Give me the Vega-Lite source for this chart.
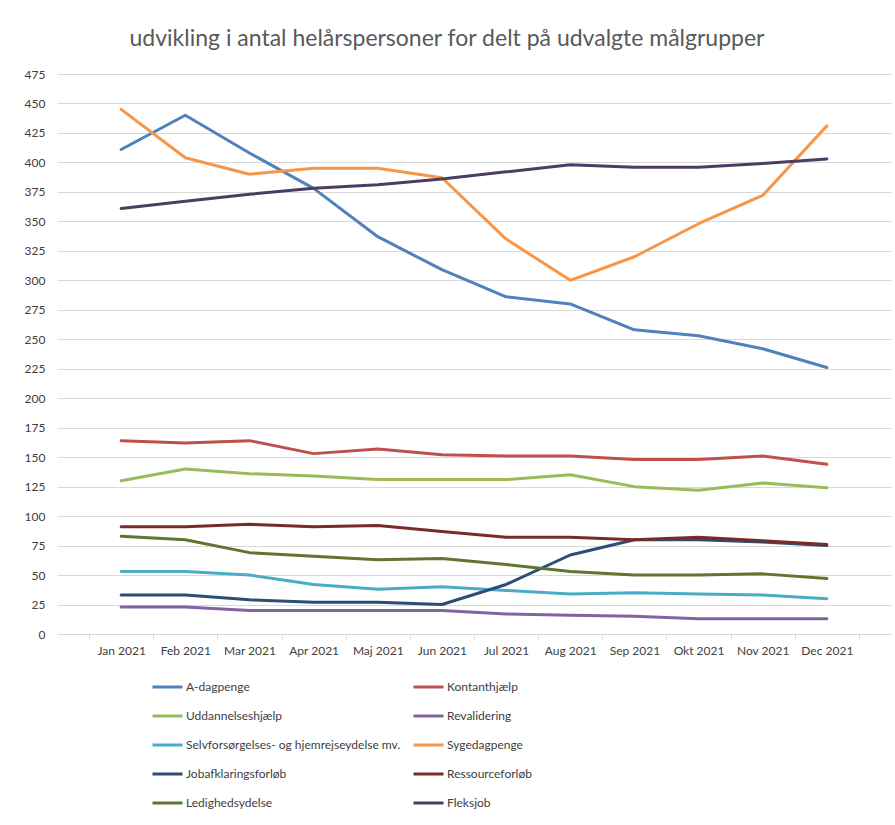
{
  "$schema": "https://vega.github.io/schema/vega-lite/v6.json",
  "width": 834,
  "height": 560,
  "autosize": "none",
  "padding": {"left": 57, "top": 74, "right": 4, "bottom": 191},
  "background": "white",
  "title": {"text": "udvikling i antal helårspersoner for delt på udvalgte målgrupper", "font": "Lato", "fontSize": 23, "fontWeight": "normal", "color": "#595959", "anchor": "middle", "dx": -27, "offset": 17},
  "datasets": {
    "d": [
      {"m":"Jan 2021","s":"A-dagpenge","v":411},{"m":"Feb 2021","s":"A-dagpenge","v":440},{"m":"Mar 2021","s":"A-dagpenge","v":408},{"m":"Apr 2021","s":"A-dagpenge","v":378},{"m":"Maj 2021","s":"A-dagpenge","v":337},{"m":"Jun 2021","s":"A-dagpenge","v":309},{"m":"Jul 2021","s":"A-dagpenge","v":286},{"m":"Aug 2021","s":"A-dagpenge","v":280},{"m":"Sep 2021","s":"A-dagpenge","v":258},{"m":"Okt 2021","s":"A-dagpenge","v":253},{"m":"Nov 2021","s":"A-dagpenge","v":242},{"m":"Dec 2021","s":"A-dagpenge","v":226},
      {"m":"Jan 2021","s":"Kontanthjælp","v":164},{"m":"Feb 2021","s":"Kontanthjælp","v":162},{"m":"Mar 2021","s":"Kontanthjælp","v":164},{"m":"Apr 2021","s":"Kontanthjælp","v":153},{"m":"Maj 2021","s":"Kontanthjælp","v":157},{"m":"Jun 2021","s":"Kontanthjælp","v":152},{"m":"Jul 2021","s":"Kontanthjælp","v":151},{"m":"Aug 2021","s":"Kontanthjælp","v":151},{"m":"Sep 2021","s":"Kontanthjælp","v":148},{"m":"Okt 2021","s":"Kontanthjælp","v":148},{"m":"Nov 2021","s":"Kontanthjælp","v":151},{"m":"Dec 2021","s":"Kontanthjælp","v":144},
      {"m":"Jan 2021","s":"Uddannelseshjælp","v":130},{"m":"Feb 2021","s":"Uddannelseshjælp","v":140},{"m":"Mar 2021","s":"Uddannelseshjælp","v":136},{"m":"Apr 2021","s":"Uddannelseshjælp","v":134},{"m":"Maj 2021","s":"Uddannelseshjælp","v":131},{"m":"Jun 2021","s":"Uddannelseshjælp","v":131},{"m":"Jul 2021","s":"Uddannelseshjælp","v":131},{"m":"Aug 2021","s":"Uddannelseshjælp","v":135},{"m":"Sep 2021","s":"Uddannelseshjælp","v":125},{"m":"Okt 2021","s":"Uddannelseshjælp","v":122},{"m":"Nov 2021","s":"Uddannelseshjælp","v":128},{"m":"Dec 2021","s":"Uddannelseshjælp","v":124},
      {"m":"Jan 2021","s":"Revalidering","v":23},{"m":"Feb 2021","s":"Revalidering","v":23},{"m":"Mar 2021","s":"Revalidering","v":20},{"m":"Apr 2021","s":"Revalidering","v":20},{"m":"Maj 2021","s":"Revalidering","v":20},{"m":"Jun 2021","s":"Revalidering","v":20},{"m":"Jul 2021","s":"Revalidering","v":17},{"m":"Aug 2021","s":"Revalidering","v":16},{"m":"Sep 2021","s":"Revalidering","v":15},{"m":"Okt 2021","s":"Revalidering","v":13},{"m":"Nov 2021","s":"Revalidering","v":13},{"m":"Dec 2021","s":"Revalidering","v":13},
      {"m":"Jan 2021","s":"Selvforsørgelses- og hjemrejseydelse mv.","v":53},{"m":"Feb 2021","s":"Selvforsørgelses- og hjemrejseydelse mv.","v":53},{"m":"Mar 2021","s":"Selvforsørgelses- og hjemrejseydelse mv.","v":50},{"m":"Apr 2021","s":"Selvforsørgelses- og hjemrejseydelse mv.","v":42},{"m":"Maj 2021","s":"Selvforsørgelses- og hjemrejseydelse mv.","v":38},{"m":"Jun 2021","s":"Selvforsørgelses- og hjemrejseydelse mv.","v":40},{"m":"Jul 2021","s":"Selvforsørgelses- og hjemrejseydelse mv.","v":37},{"m":"Aug 2021","s":"Selvforsørgelses- og hjemrejseydelse mv.","v":34},{"m":"Sep 2021","s":"Selvforsørgelses- og hjemrejseydelse mv.","v":35},{"m":"Okt 2021","s":"Selvforsørgelses- og hjemrejseydelse mv.","v":34},{"m":"Nov 2021","s":"Selvforsørgelses- og hjemrejseydelse mv.","v":33},{"m":"Dec 2021","s":"Selvforsørgelses- og hjemrejseydelse mv.","v":30},
      {"m":"Jan 2021","s":"Sygedagpenge","v":445},{"m":"Feb 2021","s":"Sygedagpenge","v":404},{"m":"Mar 2021","s":"Sygedagpenge","v":390},{"m":"Apr 2021","s":"Sygedagpenge","v":395},{"m":"Maj 2021","s":"Sygedagpenge","v":395},{"m":"Jun 2021","s":"Sygedagpenge","v":387},{"m":"Jul 2021","s":"Sygedagpenge","v":335},{"m":"Aug 2021","s":"Sygedagpenge","v":300},{"m":"Sep 2021","s":"Sygedagpenge","v":320},{"m":"Okt 2021","s":"Sygedagpenge","v":348},{"m":"Nov 2021","s":"Sygedagpenge","v":372},{"m":"Dec 2021","s":"Sygedagpenge","v":431},
      {"m":"Jan 2021","s":"Jobafklaringsforløb","v":33},{"m":"Feb 2021","s":"Jobafklaringsforløb","v":33},{"m":"Mar 2021","s":"Jobafklaringsforløb","v":29},{"m":"Apr 2021","s":"Jobafklaringsforløb","v":27},{"m":"Maj 2021","s":"Jobafklaringsforløb","v":27},{"m":"Jun 2021","s":"Jobafklaringsforløb","v":25},{"m":"Jul 2021","s":"Jobafklaringsforløb","v":42},{"m":"Aug 2021","s":"Jobafklaringsforløb","v":67},{"m":"Sep 2021","s":"Jobafklaringsforløb","v":80},{"m":"Okt 2021","s":"Jobafklaringsforløb","v":80},{"m":"Nov 2021","s":"Jobafklaringsforløb","v":78},{"m":"Dec 2021","s":"Jobafklaringsforløb","v":75},
      {"m":"Jan 2021","s":"Ressourceforløb","v":91},{"m":"Feb 2021","s":"Ressourceforløb","v":91},{"m":"Mar 2021","s":"Ressourceforløb","v":93},{"m":"Apr 2021","s":"Ressourceforløb","v":91},{"m":"Maj 2021","s":"Ressourceforløb","v":92},{"m":"Jun 2021","s":"Ressourceforløb","v":87},{"m":"Jul 2021","s":"Ressourceforløb","v":82},{"m":"Aug 2021","s":"Ressourceforløb","v":82},{"m":"Sep 2021","s":"Ressourceforløb","v":80},{"m":"Okt 2021","s":"Ressourceforløb","v":82},{"m":"Nov 2021","s":"Ressourceforløb","v":79},{"m":"Dec 2021","s":"Ressourceforløb","v":76},
      {"m":"Jan 2021","s":"Ledighedsydelse","v":83},{"m":"Feb 2021","s":"Ledighedsydelse","v":80},{"m":"Mar 2021","s":"Ledighedsydelse","v":69},{"m":"Apr 2021","s":"Ledighedsydelse","v":66},{"m":"Maj 2021","s":"Ledighedsydelse","v":63},{"m":"Jun 2021","s":"Ledighedsydelse","v":64},{"m":"Jul 2021","s":"Ledighedsydelse","v":59},{"m":"Aug 2021","s":"Ledighedsydelse","v":53},{"m":"Sep 2021","s":"Ledighedsydelse","v":50},{"m":"Okt 2021","s":"Ledighedsydelse","v":50},{"m":"Nov 2021","s":"Ledighedsydelse","v":51},{"m":"Dec 2021","s":"Ledighedsydelse","v":47},
      {"m":"Jan 2021","s":"Fleksjob","v":361},{"m":"Feb 2021","s":"Fleksjob","v":367},{"m":"Mar 2021","s":"Fleksjob","v":373},{"m":"Apr 2021","s":"Fleksjob","v":378},{"m":"Maj 2021","s":"Fleksjob","v":381},{"m":"Jun 2021","s":"Fleksjob","v":386},{"m":"Jul 2021","s":"Fleksjob","v":392},{"m":"Aug 2021","s":"Fleksjob","v":398},{"m":"Sep 2021","s":"Fleksjob","v":396},{"m":"Okt 2021","s":"Fleksjob","v":396},{"m":"Nov 2021","s":"Fleksjob","v":399},{"m":"Dec 2021","s":"Fleksjob","v":403}
    ]
  },
  "data": {"name": "d"},
  "mark": {"type": "line", "strokeWidth": 3, "strokeCap": "round", "strokeJoin": "round"},
  "encoding": {
    "x": {"field": "m", "type": "nominal", "sort": null, "title": null,
      "scale": {"paddingInner": 0, "paddingOuter": 0.5},
      "axis": {"labelAngle": 0, "labelFont": "Lato", "labelFontSize": 12, "labelColor": "#404040", "domainColor": "#d9d9d9", "tickColor": "#d9d9d9", "tickBand": "extent", "tickSize": 5, "labelPadding": 6, "grid": false}},
    "y": {"field": "v", "type": "quantitative", "title": null,
      "scale": {"domain": [0, 475], "nice": false},
      "axis": {"values": [0,25,50,75,100,125,150,175,200,225,250,275,300,325,350,375,400,425,450,475], "labelFont": "Lato", "labelFontSize": 12, "labelColor": "#404040", "domain": false, "ticks": false, "labelPadding": 12, "gridColor": "#d9d9d9", "gridWidth": 1}},
    "color": {"field": "s", "type": "nominal", "title": null,
      "scale": {
        "domain": ["A-dagpenge","Uddannelseshjælp","Selvforsørgelses- og hjemrejseydelse mv.","Jobafklaringsforløb","Ledighedsydelse","Kontanthjælp","Revalidering","Sygedagpenge","Ressourceforløb","Fleksjob"],
        "range": ["#4F81BD","#9BBB59","#4BACC6","#2C4D75","#5F7530","#C0504D","#8064A2","#F79646","#772C2A","#4D3B62"]},
      "legend": {"orient": "none", "legendX": 94, "legendY": 605, "columns": 2, "columnPadding": 11, "rowPadding": 13, "symbolType": "stroke", "symbolStrokeWidth": 3, "symbolSize": 900, "labelFont": "Lato", "labelFontSize": 12, "labelColor": "#404040", "labelLimit": 300, "labelOffset": 2, "clipHeight": 16, "symbolOffset": 0}}
  },
  "config": {"view": {"stroke": null}}
}
